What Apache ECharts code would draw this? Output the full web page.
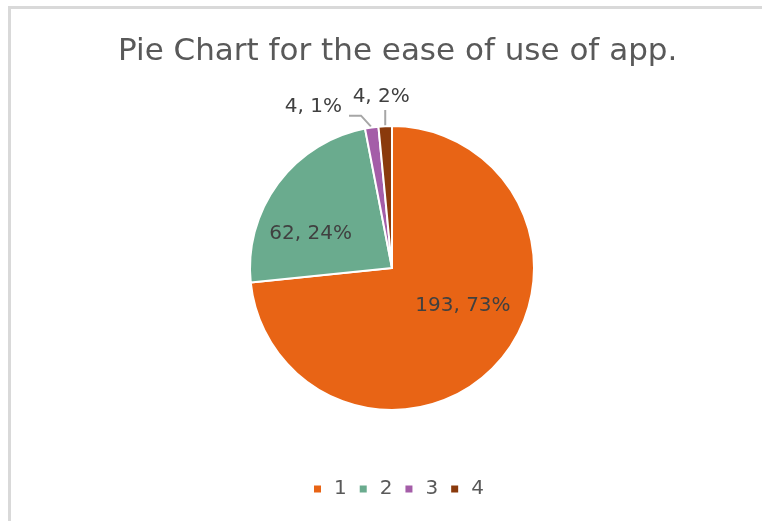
<!DOCTYPE html>
<html>
<head>
<meta charset="utf-8">
<script src="https://cdn.jsdelivr.net/npm/echarts@6/dist/echarts.min.js"></script>
<style>
  html, body { margin: 0; padding: 0; background: #fff; }
  .frame {
    position: absolute;
    left: 8px;
    top: 6px;
    width: 754px;
    height: 515px;
    border-left: 3px solid #d9d9d9;
    border-top: 3px solid #d9d9d9;
  }
  #chart { position: absolute; left: 0; top: 0; width: 762px; height: 521px; }
</style>
</head>
<body>
<div class="frame"></div>
<div id="chart"></div>
<script>
const categories = ['1', '2', '3', '4']
const counts = [193, 62, 4, 4]
// percentages as printed on the chart (Excel rounding)
const percentLabels = [73, 24, 1, 2]
const colors = ['#E86415', '#6AAB8E', '#A45DA8', '#8A3A0C']

const chartInstance = echarts.init(document.getElementById('chart'))

const fontFamily = '"DejaVu Sans", sans-serif'

const option = {
  color: colors,
  title: {
    text: 'Pie Chart for the ease of use of app.',
    left: 113,
    top: 31,
    textStyle: {
      fontFamily,
      fontSize: 31,
      fontWeight: 'normal',
      color: '#595959'
    }
  },
  legend: {
    bottom: 17,
    left: 307,
    icon: 'rect',
    itemWidth: 9,
    itemHeight: 9,
    itemGap: 11,
    textStyle: {
      fontFamily,
      fontSize: 20,
      color: '#595959',
      padding: [0, 0, 0, 7]
    },
    data: categories
  },
  series: [
    {
      type: 'pie',
      center: [392, 268],
      radius: 142,
      startAngle: 90,
      clockwise: true,
      avoidLabelOverlap: false,
      itemStyle: {
        borderColor: '#fff',
        borderWidth: 2
      },
      label: {
        formatter: (p) => p.value + ', ' + percentLabels[p.dataIndex] + '%',
        fontFamily,
        fontSize: 20,
        color: '#404040'
      },
      labelLine: {
        lineStyle: { color: '#a6a6a6', width: 2 }
      },
      labelLayout: (params) => {
        const r = params.rect
        if (params.dataIndex === 2) {
          const mx = r.x + 7
          return {
            x: mx - 29,
            y: r.y - 19,
            align: 'right',
            verticalAlign: 'middle',
            labelLinePoints: [[mx, r.y + 1], [mx - 10, r.y - 10], [mx - 22, r.y - 10]]
          }
        }
        if (params.dataIndex === 3) {
          const mx = r.x + r.width / 2
          return {
            x: mx - 4,
            y: r.y - 18,
            align: 'center',
            verticalAlign: 'bottom',
            labelLinePoints: [[mx, r.y + 1], [mx, r.y - 15]]
          }
        }
      },
      data: categories.map((name, i) => {
        const item = { name, value: counts[i] }
        if (i < 2) {
          item.label = { position: 'inside', offset: i === 0 ? [16, -12] : [-22, 10] }
        } else {
          item.label = { position: 'outside' }
        }
        return item
      })
    }
  ]
}

chartInstance.setOption(option)
</script>
</body>
</html>
